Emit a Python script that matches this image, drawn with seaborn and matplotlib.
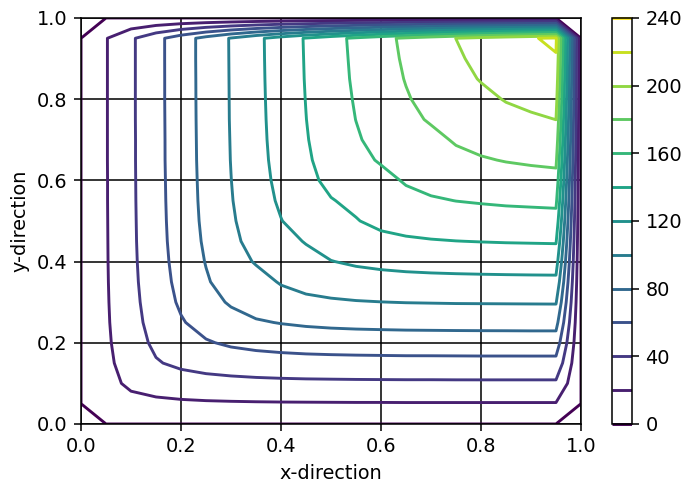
import numpy as np
import matplotlib
matplotlib.use('Agg')
import matplotlib.pyplot as plt
import seaborn as sns

# grid nodes (the outer ring is the zero boundary)
x_nodes = [0.0, 0.05, 0.1, 0.15, 0.2, 0.25, 0.3, 0.35, 0.4, 0.45, 0.5,
           0.55, 0.6, 0.65, 0.7, 0.75, 0.8, 0.85, 0.9, 0.95, 1.0]
y_nodes = [0.0, 0.05, 0.1, 0.15, 0.2, 0.25, 0.3, 0.35, 0.4, 0.45, 0.5,
           0.55, 0.6, 0.65, 0.7, 0.75, 0.8, 0.85, 0.9, 0.95, 1.0]
edge_value = 0.0

# interior values, one row per y node (0.05 ... 0.95)
interior = [
    [12.0, 14.4, 16.0, 17.0, 17.7, 18.1, 18.4, 18.6, 18.7, 18.8, 18.9, 18.9, 19.0, 19.0, 19.0, 19.0, 19.0, 19.0, 19.0],
    [14.4, 23.5, 28.1, 31.2, 33.1, 34.4, 35.3, 35.9, 36.3, 36.5, 36.7, 36.8, 36.9, 36.9, 37.0, 37.0, 37.0, 37.0, 37.0],
    [16.0, 28.1, 38.5, 43.9, 47.5, 49.7, 51.3, 52.3, 53.0, 53.4, 53.7, 53.9, 54.1, 54.1, 54.2, 54.3, 54.3, 54.3, 54.3],
    [17.0, 31.2, 43.9, 52.0, 58.4, 62.7, 65.4, 67.2, 68.5, 69.3, 69.8, 70.1, 70.4, 70.5, 70.6, 70.7, 70.7, 70.8, 70.8],
    [17.7, 33.1, 47.5, 58.4, 67.0, 73.6, 78.1, 80.8, 82.8, 84.1, 84.9, 85.4, 85.8, 86.0, 86.2, 86.3, 86.4, 86.5, 86.5],
    [18.1, 34.4, 49.7, 62.7, 73.6, 82.0, 88.6, 93.1, 95.8, 97.7, 99.0, 99.8, 100.4, 100.7, 101.0, 101.1, 101.2, 101.3, 101.4],
    [18.4, 35.3, 51.3, 65.4, 78.1, 88.6, 94.0, 101.3, 106.3, 109.3, 111.5, 112.9, 113.8, 114.4, 114.8, 115.1, 115.3, 115.5, 115.6],
    [18.6, 35.9, 52.3, 67.2, 80.8, 93.1, 101.3, 107.0, 114.4, 119.5, 122.6, 124.7, 126.2, 127.1, 127.7, 128.1, 128.5, 128.7, 128.9],
    [18.7, 36.3, 53.0, 68.5, 82.8, 95.8, 106.3, 114.4, 121.0, 128.0, 132.7, 135.6, 137.6, 138.9, 139.8, 140.4, 140.9, 141.2, 141.5],
    [18.8, 36.5, 53.4, 69.3, 84.1, 97.7, 109.3, 119.5, 128.0, 132.0, 139.2, 144.1, 147.1, 149.2, 150.6, 151.5, 152.2, 152.7, 153.2],
    [18.9, 36.7, 53.7, 69.8, 84.9, 99.0, 111.5, 122.6, 132.7, 139.2, 143.5, 150.5, 155.2, 158.1, 160.2, 161.5, 162.7, 163.4, 164.1],
    [18.9, 36.8, 53.9, 70.1, 85.4, 99.8, 112.9, 124.7, 135.6, 144.1, 150.5, 155.0, 161.6, 166.0, 168.7, 170.6, 172.3, 173.4, 174.3],
    [19.0, 36.9, 54.1, 70.4, 85.8, 100.4, 113.8, 126.2, 137.6, 147.1, 155.2, 161.6, 166.0, 172.0, 176.1, 178.6, 180.8, 182.4, 183.7],
    [19.0, 36.9, 54.1, 70.5, 86.0, 100.7, 114.4, 127.1, 138.9, 149.2, 158.1, 166.0, 172.0, 176.0, 181.5, 185.3, 188.3, 190.4, 192.3],
    [19.0, 37.0, 54.2, 70.6, 86.2, 101.0, 114.8, 127.7, 139.8, 150.6, 160.2, 168.7, 176.1, 181.5, 186.0, 190.8, 195.0, 197.6, 200.1],
    [19.0, 37.0, 54.3, 70.7, 86.3, 101.1, 115.1, 128.1, 140.4, 151.5, 161.5, 170.6, 178.6, 185.3, 190.8, 196.0, 200.9, 204.2, 207.1],
    [19.0, 37.0, 54.3, 70.7, 86.4, 101.2, 115.3, 128.5, 140.9, 152.2, 162.7, 172.3, 180.8, 188.3, 195.0, 200.9, 205.0, 210.0, 213.2],
    [19.0, 37.0, 54.3, 70.8, 86.5, 101.3, 115.5, 128.7, 141.2, 152.7, 163.4, 173.4, 182.4, 190.4, 197.6, 204.2, 210.0, 213.0, 218.6],
    [19.0, 37.0, 54.3, 70.8, 86.5, 101.4, 115.6, 128.9, 141.5, 153.2, 164.1, 174.3, 183.7, 192.3, 200.1, 207.1, 213.2, 218.6, 223.3],
]

levels = [0, 20, 40, 60, 80, 100, 120, 140, 160, 180, 200, 220, 240]


def main():
    T = np.pad(np.array(interior), 1, constant_values=edge_value)
    X, Y = np.meshgrid(x_nodes, y_nodes)

    # figure drawn at a 72 dpi scale, rendered larger
    dpi = 100 / 0.72
    fig = plt.figure(figsize=(682 / dpi, 483 / dpi), dpi=dpi)
    ax = fig.add_axes([0.1188, 0.1222, 0.7331, 0.8406])
    cax = fig.add_axes([0.8974, 0.1222, 0.0293, 0.8406])

    cmap = sns.color_palette('viridis', as_cmap=True)
    cs = ax.contour(X, Y, T, levels=levels, cmap=cmap)
    fig.colorbar(cs, cax=cax, ticks=[0, 40, 80, 120, 160, 200, 240])

    ax.set_xlim(0, 1)
    ax.set_ylim(0, 1)
    ax.grid(color='black', linewidth=0.8)
    ax.set_xlabel('x-direction')
    ax.set_ylabel('y-direction')

    fig.savefig('out.png', dpi=dpi)


if __name__ == '__main__':
    main()
